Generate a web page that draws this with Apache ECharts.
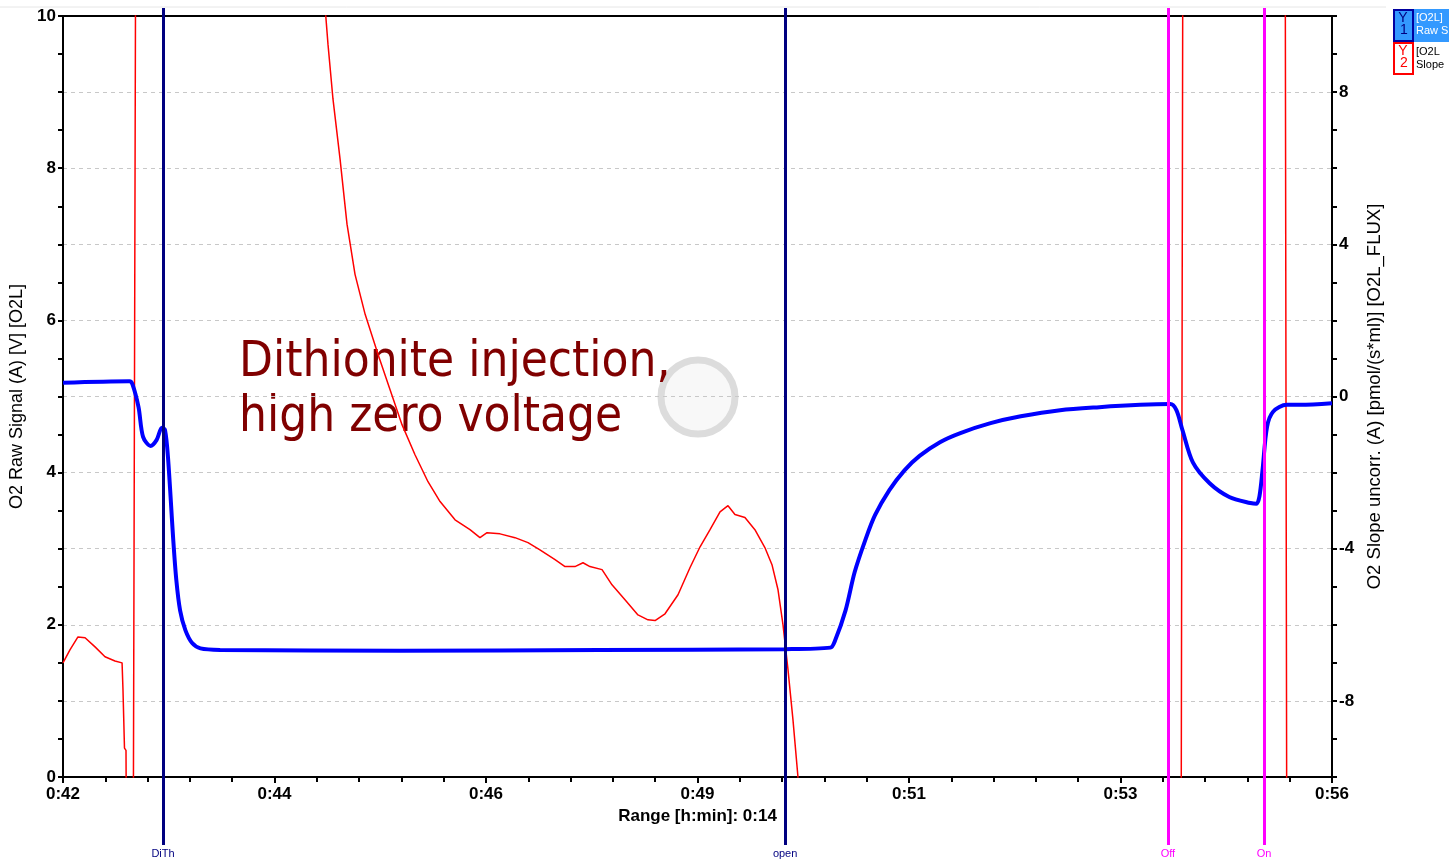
<!DOCTYPE html>
<html><head><meta charset="utf-8">
<script src="https://cdn.jsdelivr.net/npm/echarts@6/dist/echarts.min.js"></script>
<style>html,body{margin:0;padding:0;background:#fff}#c{width:1449px;height:859px}</style>
</head><body><div id="c"></div>
<script>
// time in seconds of day-clock (0:42 = 2520 s)
const blueTime = [2520,2564,2566,2570,2573,2578,2582,2585.5,2587.5,2589.5,2593,2595,2597.5,2601,2605.5,2611,2624,2743,2875,2998,3028,3031,3038,3044,3051,3057.5,3067,3077,3087,3100.5,3114,3134,3154,3180,3206,3233,3253,3257,3261,3268,3279,3292,3306,3310,3312,3314,3317,3321,3330,3339,3360];
const blueSignal = [5.18,5.20,5.16,4.86,4.47,4.35,4.43,4.59,4.56,4.20,3.11,2.59,2.19,1.93,1.76,1.69,1.67,1.66,1.67,1.68,1.70,1.79,2.19,2.69,3.11,3.44,3.77,4.03,4.22,4.40,4.52,4.65,4.74,4.82,4.86,4.89,4.90,4.82,4.56,4.13,3.86,3.68,3.60,3.59,3.69,4.03,4.60,4.80,4.89,4.89,4.91];
const redTime = [2520,2524.6,2529.9,2534.6,2541.2,2547.8,2554.4,2559.1,2559.7,2560.7,2561.7,2562.4,2566.3,2568.3,2690,2695.4,2698.7,2703.4,2708,2713.3,2720,2728.5,2736.5,2744.4,2753,2761.6,2769.6,2779.5,2789.4,2796,2800.7,2809.3,2819.2,2827.8,2835.7,2845.7,2852.3,2858.9,2864.2,2868.8,2876.8,2883.4,2892,2900.6,2907.2,2911.9,2918.5,2927.1,2935,2941.7,2948.3,2954.9,2960.2,2964.8,2971.4,2978,2984.6,2989.3,2993.3,2996.6,2999.9,3003.2,3006.5,3007.9,3260,3261.4,3328.9,3330.2,3360];
const redSlope = [-7.0,-6.66,-6.32,-6.34,-6.58,-6.84,-6.95,-7.0,-7.7,-9.24,-9.3,-15,-15,15,12,9.26,7.82,6.24,4.53,3.21,2.16,1.11,0.18,-0.74,-1.53,-2.24,-2.76,-3.24,-3.5,-3.71,-3.58,-3.61,-3.71,-3.84,-4.03,-4.29,-4.47,-4.47,-4.37,-4.47,-4.55,-4.95,-5.34,-5.74,-5.87,-5.89,-5.71,-5.21,-4.5,-3.95,-3.5,-3.03,-2.87,-3.1,-3.18,-3.5,-3.97,-4.42,-5.08,-6.0,-7.18,-8.5,-10,-15,-15,15,15,-15,-15];
const eventTime = [2586.2, 2998, 3251.4, 3315];
const eventLabels = ['DiTh','open','Off','On'];
const eventColors = ['#000080','#000080','#ff00ff','#ff00ff'];
const xMin = 2520, xMax = 3360, xStep = 140;

const blueData = blueTime.map((t,i)=>[t, blueSignal[i]]);
const redData = redTime.map((t,i)=>[t, redSlope[i]]);
const fmtX = v => '0:' + String(Math.floor(v/60)%60).padStart(2,'0');
const font = '"Liberation Sans", Arial, sans-serif';

const chart = echarts.init(document.getElementById('c'), null, {renderer:'canvas'});
chart.setOption({
  animation:false,
  backgroundColor:'#fff',
  grid:[
    {left:63,right:117,top:16,bottom:82,show:false},
    {left:63,right:117,top:8,bottom:14,show:false}
  ],
  xAxis:[
    {type:'value',gridIndex:0,min:xMin,max:xMax,interval:xStep,z:2,
     name:'Range [h:min]: 0:14',nameLocation:'middle',nameGap:31,
     nameTextStyle:{fontFamily:font,fontWeight:'bold',fontSize:17,color:'#000'},
     axisLine:{lineStyle:{color:'#000',width:2}},
     axisTick:{inside:false,length:6,lineStyle:{color:'#000',width:2}},
     minorTick:{show:true,splitNumber:5,length:5,lineStyle:{color:'#000',width:2}},
     axisLabel:{formatter:fmtX,fontFamily:font,fontWeight:'bold',fontSize:17,color:'#000',margin:9},
     splitLine:{show:false}},
    {type:'value',gridIndex:1,min:xMin,max:xMax,show:false},
    {type:'value',gridIndex:0,min:xMin,max:xMax,position:'top',z:3,
     axisLine:{show:true,onZero:false,lineStyle:{color:'#000',width:2}},
     axisTick:{show:false},axisLabel:{show:false},splitLine:{show:false}}
  ],
  yAxis:[
    {type:'value',gridIndex:0,min:0,max:10,interval:1,position:'left',z:2,
     name:'O2 Raw Signal (A) [V] [O2L]',nameLocation:'middle',nameGap:32,nameRotate:90,
     nameTextStyle:{fontFamily:font,fontSize:18,color:'#000'},
     axisLine:{show:true,lineStyle:{color:'#000',width:2}},
     axisTick:{show:true,length:5,lineStyle:{color:'#000',width:2}},
     minorTick:{show:true,splitNumber:2,length:5,lineStyle:{color:'#000',width:2}},
     axisLabel:{formatter:v=> (v%2===0? String(v):''),fontFamily:font,fontWeight:'bold',fontSize:17,color:'#000',margin:7},
     splitLine:{show:true,lineStyle:{color:'#c8c8c8',type:[4,4],width:1}}},
    {type:'value',gridIndex:0,min:-10,max:10,interval:1,position:'right',z:2,
     name:'O2 Slope uncorr. (A) [pmol/(s*ml)] [O2L_FLUX]',nameLocation:'middle',nameGap:28,nameRotate:90,
     nameTextStyle:{fontFamily:font,fontSize:18.5,color:'#000'},
     axisLine:{show:true,lineStyle:{color:'#000',width:2}},
     axisTick:{show:true,length:5,lineStyle:{color:'#000',width:2}},
     axisLabel:{formatter:v=> (v%4===0? String(v):''),fontFamily:font,fontWeight:'bold',fontSize:17,color:'#000',margin:7},
     splitLine:{show:false}},
    {type:'value',gridIndex:1,min:0,max:1,show:false}
  ],
  series:[
    {type:'line',name:'[O2L] Slope',xAxisIndex:0,yAxisIndex:1,data:redData,showSymbol:false,symbol:'none',
     lineStyle:{color:'#ff0000',width:1.5},z:3,clip:true},
    {type:'line',name:'[O2L] Raw Signal',xAxisIndex:0,yAxisIndex:0,data:blueData,showSymbol:false,symbol:'none',smooth:0.3,
     lineStyle:{color:'#0000ff',width:4},z:4,clip:true},
    {type:'line',name:'events',xAxisIndex:1,yAxisIndex:2,data:[],z:6,
     markLine:{silent:true,symbol:'none',animation:false,
       data:eventTime.map((t,i)=>({xAxis:t,lineStyle:{color:eventColors[i],width:3,type:'solid'},
         label:{show:true,formatter:eventLabels[i],position:'start',distance:3,color:eventColors[i],fontSize:11,fontFamily:font}}))}}
  ],
  graphic:[
    {type:'line',shape:{x1:0,y1:7,x2:1386,y2:7},style:{stroke:'#e6e6e6',lineWidth:1},z:0},
    {type:'circle',shape:{cx:698,cy:397,r:37},style:{fill:'rgba(235,235,235,0.35)',stroke:'#dcdcdc',lineWidth:7},z:0},
    {type:'text',left:239,top:336,z:0,style:{text:'Dithionite injection,\nhigh zero voltage',fill:'#800000',
      font:'49px "DejaVu Sans Condensed", "DejaVu Sans", sans-serif',lineHeight:55}},
    // legend boxes
    {type:'rect',shape:{x:1393,y:9,width:56,height:33},style:{fill:'#3399ff'},z:10},
    {type:'rect',shape:{x:1394,y:10,width:19,height:31},style:{fill:'#3399ff',stroke:'#0000a0',lineWidth:2},z:11},
    {type:'text',x:1403,y:25,style:{text:'Y',fill:'#000080',font:'14px '+font,align:'center',verticalAlign:'bottom'},z:12},
    {type:'text',x:1404,y:23,style:{text:'1',fill:'#000080',font:'14px '+font,align:'center',verticalAlign:'top'},z:12},
    {type:'text',x:1416,y:11,style:{text:'[O2L]\nRaw S',fill:'#ffffff',font:'11px '+font,lineHeight:13},z:12},
    {type:'rect',shape:{x:1394,y:43,width:19,height:31},style:{fill:'#fff',stroke:'#ff0000',lineWidth:2},z:11},
    {type:'text',x:1403,y:58,style:{text:'Y',fill:'#ff0000',font:'14px '+font,align:'center',verticalAlign:'bottom'},z:12},
    {type:'text',x:1404,y:56,style:{text:'2',fill:'#ff0000',font:'14px '+font,align:'center',verticalAlign:'top'},z:12},
    {type:'text',x:1416,y:45,style:{text:'[O2L\nSlope',fill:'#000',font:'11px '+font,lineHeight:13},z:12}
  ]
});
</script></body></html>
